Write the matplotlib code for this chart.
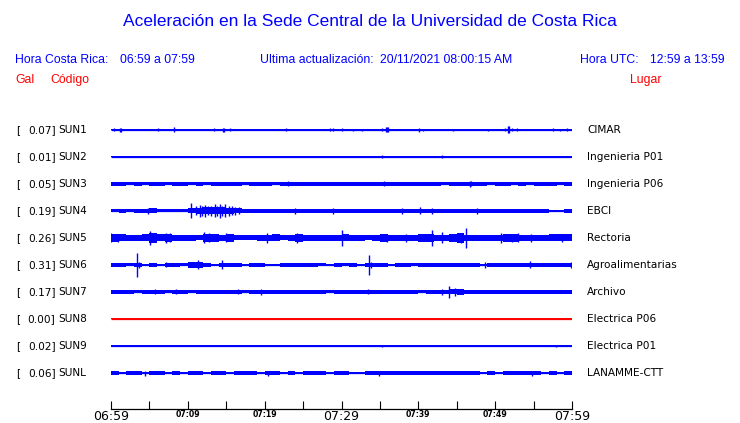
import numpy as np
import matplotlib
matplotlib.use("Agg")
import matplotlib.pyplot as plt

# ---------------- data ----------------
codes = ["SUN1", "SUN2", "SUN3", "SUN4", "SUN5", "SUN6", "SUN7", "SUN8", "SUN9", "SUNL"]
peaks = ["0.07", "0.01", "0.05", "0.19", "0.26", "0.31", "0.17", "0.00", "0.02", "0.06"]
places = ["CIMAR", "Ingenieria P01", "Ingenieria P06", "EBCI", "Rectoria",
          "Agroalimentarias", "Archivo", "Electrica P06", "Electrica P01", "LANAMME-CTT"]
trace_colors = ["blue"] * 7 + ["red"] + ["blue"] * 2

tick_minutes = list(range(0, 61, 5))
tick_labels = ["06:59", "", "07:09", "", "07:19", "", "07:29", "", "07:39", "", "07:49", "", "07:59"]
big_labels = ["06:59", "07:29", "07:59"]

# per-minute envelope half-amplitude (pixel-ish units) for each trace, 60 bins
env_sun1 = [0.5] * 60
env_sun2 = [0.5] * 60
env_sun3 = [2, 2, 1.5, 2, 1.5, 2, 2, 1.5, 2, 2, 1.5, 2, 1.5, 2, 2, 2, 2, 1.5, 2, 2,
            2, 1.5, 2, 2, 2, 2, 2, 2, 2, 2, 2, 2, 2, 2, 2, 2, 2, 2, 2, 2,
            2, 2, 2, 1.5, 2, 2, 2, 2, 2, 1.5, 2, 2, 1.5, 2, 1.5, 2, 2, 2, 1.5, 2]
env_sun4 = [1.5, 2, 1.5, 2, 2, 2.5, 1.5, 1.5, 1.5, 1.5, 2.5, 3, 3.5, 3.5, 3.5, 3, 2.5, 2, 2, 2,
            2, 2, 2, 2, 2, 2, 2, 2, 2, 2, 2, 2, 2, 2, 2, 2, 2, 2, 2, 2,
            2, 2, 2, 2, 2, 2, 2, 2, 2, 2, 2, 2, 2, 2, 2, 2, 2, 1, 1, 2]
env_sun5 = [4, 3.5, 3, 3, 3.5, 5, 3.5, 4, 3, 3, 3, 2.5, 4, 4, 3, 4, 2.5, 2.5, 2.5, 3,
            3, 3.5, 2.5, 3, 4, 3, 3, 3, 3, 3, 3.5, 3, 3, 2.5, 3, 4, 3, 3, 3, 3,
            4, 4, 3, 3, 4, 5, 3, 3, 3, 3, 3, 4, 4, 3, 3, 3, 3, 3.5, 3.5, 3.5]
env_sun6 = [2, 2, 1.5, 2, 0.5, 2, 0.5, 2, 2, 1.5, 3, 3, 2, 0.5, 2, 2, 2, 1, 2, 2,
            1, 1, 2, 2, 2, 2, 2, 1.5, 1, 2, 1.5, 2, 0.5, 2, 2, 2, 0.5, 2, 2, 1.5,
            2, 2, 2, 2, 2, 2, 2, 2, 1, 2, 2, 2, 2, 2, 2, 2, 2, 2, 2, 2]
env_sun7 = [2, 2, 2, 1.5, 2, 2, 2, 1.5, 2, 2, 1.5, 2, 2, 2, 2, 2, 2, 1.5, 2, 2,
            2, 2, 2, 2, 2, 2, 2, 2, 1.5, 2, 2, 2, 2, 2, 2, 2, 2, 2, 2, 2,
            1.5, 2, 2, 2, 2.5, 3, 2, 2, 2, 2, 2, 2, 2, 2, 2, 2, 2, 2, 2, 2]
env_sun8 = [0.5] * 60
env_sun9 = [0.5] * 60
env_sunl = [2, 1.5, 2, 2, 1.5, 2, 2, 1.5, 2, 1.5, 2, 2, 1.5, 2, 2, 1.5, 2, 2, 2, 1.5,
            2, 2, 1.5, 2, 1.5, 2, 2, 2, 1.5, 2, 2, 0.5, 0.5, 2, 2, 2, 2, 2, 2, 2,
            2, 2, 2, 2, 2, 2, 2, 2, 1.5, 2, 1.5, 2, 2, 2, 2, 2, 1.5, 2, 1.5, 2]
envelopes = [env_sun1, env_sun2, env_sun3, env_sun4, env_sun5,
             env_sun6, env_sun7, env_sun8, env_sun9, env_sunl]

# spikes: (minute, half-amplitude)
spk_sun1 = [(0.43, 1.5), (1.17, 2), (1.3, 2), (6.06, 1.5), (8.22, 2.5), (13.38, 1.5), (14.55, 2), (14.7, 2),
            (15.45, 1.5), (22.73, 1.5), (28.53, 1.5), (28.83, 1.5), (30.0, 1.5), (31.56, 1), (32.73, 1),
            (35.29, 1.5), (35.8, 2.5), (35.94, 2.5), (36.1, 2.5), (40.13, 2), (40.65, 1), (44.55, 1),
            (49.09, 1), (51.26, 1.5), (51.7, 3.5), (51.82, 3.5), (52.21, 1.5), (52.82, 1.5),
            (57.53, 1.5), (58.44, 1), (59.35, 1.5)]
spk_sun2 = [(35.29, 1.5), (43.08, 1.5)]
spk_sun3 = [(46.7, 3), (46.85, 2.5), (23.0, 2.5), (35.5, 2.5)]
spk_sun4 = [(4.81, 3), (10.39, 7.5), (11.0, 4.5), (11.56, 6), (11.9, 5), (12.21, 6), (12.6, 4.5),
            (12.99, 5), (13.51, 6.5), (13.8, 5), (14.16, 7), (14.5, 5), (14.81, 6.5), (15.32, 5),
            (15.7, 4.5), (16.1, 4), (16.6, 3.5), (23.9, 3), (28.83, 3), (37.92, 3), (40.26, 3.5),
            (41.78, 3), (47.66, 3)]
spk_sun5 = [(0.0, 4.5), (0.91, 4), (5.06, 7), (7.14, 5), (7.66, 4.5), (12.12, 5.5), (12.73, 4.5),
            (15.03, 4.5), (20.35, 5), (24.25, 5), (30.04, 8), (35.94, 4), (38.4, 4), (41.78, 8),
            (43.08, 5.5), (45.55, 5), (46.2, 10), (50.82, 5), (52.21, 4), (53.03, 4.5), (54.64, 4),
            (58.7, 4)]
spk_sun6 = [(3.42, 12), (3.6, 3), (7.14, 2.5), (11.26, 4.5), (14.45, 4.5), (33.55, 10), (33.8, 3),
            (48.7, 3), (54.55, 3.5), (59.9, 3)]
spk_sun7 = [(5.7, 2.5), (8.4, 2.5), (16.49, 2.5), (19.48, 3), (33.5, 2.5), (43.12, 3), (44.03, 6),
            (44.81, 4)]
spk_sun8 = []
spk_sun9 = [(35.23, 1), (57.96, 1)]
spk_sunl = [(4.4, 2.5), (20.4, 2.5), (34.94, 2.5), (54.81, 2.5)]
spikes = [spk_sun1, spk_sun2, spk_sun3, spk_sun4, spk_sun5,
          spk_sun6, spk_sun7, spk_sun8, spk_sun9, spk_sunl]

# ---------------- figure ----------------
W, H = 740, 423
fig = plt.figure(figsize=(W / 100, H / 100), dpi=100)

def fx(x):
    return x / W

def fy(y):
    return 1 - y / H

HEAD = "Liberation Sans"
BLUE = "#0000ff"
fig.text(fx(370), fy(22), "Aceleración en la Sede Central de la Universidad de Costa Rica",
         color=BLUE, fontsize=12.55, family=HEAD, ha="center", va="center")
hdr = [(15, "Hora Costa Rica:"), (120, "06:59 a 07:59"), (260, "Ultima actualización:"),
       (380, "20/11/2021 08:00:15 AM"), (580, "Hora UTC:"), (650.5, "12:59 a 13:59")]
for x, s in hdr:
    fig.text(fx(x), fy(60), s, color=BLUE, fontsize=8.8, family=HEAD, ha="left", va="center")
for x, s in [(15, "Gal"), (50, "Código"), (630, "Lugar")]:
    fig.text(fx(x), fy(80), s, color="red", fontsize=8.8, family=HEAD, ha="left", va="center")

# axes: x in minutes, y in row index (row spacing = 27 px)
row0, step = 130, 27
ax_bottom, ax_top = 409, 100
ax = fig.add_axes([fx(111), fy(ax_bottom), (572 - 111) / W, (ax_bottom - ax_top) / H])
ax.set_xlim(0, 60)
ax.set_ylim((ax_bottom - row0) / step, (ax_top - row0) / step)
for s in ["left", "right", "top"]:
    ax.spines[s].set_visible(False)
ax.spines["bottom"].set_linewidth(0.9)
ax.set_yticks([])
ax.set_xticks(tick_minutes)
ax.set_xticklabels(tick_labels)
ax.tick_params(axis="x", direction="in", length=6, width=0.8, pad=1)
for lab in ax.get_xticklabels():
    if lab.get_text() in big_labels:
        lab.set_fontsize(9)
    else:
        lab.set_fontsize(5.6)
        lab.set_fontweight("bold")

edges = np.arange(61)
for i in range(len(codes)):
    env = np.array(envelopes[i]) / step
    c = trace_colors[i]
    ax.fill_between(edges, i - np.append(env, env[-1]), i + np.append(env, env[-1]),
                    step="post", color=c, linewidth=0, antialiased=False)
    ax.hlines(i, 0, 60, color=c, linewidth=0.9)
    if spikes[i]:
        t = np.array([s[0] for s in spikes[i]])
        a = np.array([s[1] for s in spikes[i]]) / step
        ax.vlines(t, i - a, i + a, color=c, linewidth=1.0)
    y = row0 + step * i
    fig.text(fx(16), fy(y), "[", fontsize=7.6, ha="left", va="center")
    fig.text(fx(55.5), fy(y), peaks[i] + "]", fontsize=7.6, ha="right", va="center")
    fig.text(fx(58.5), fy(y), codes[i], fontsize=7.6, ha="left", va="center")
    fig.text(fx(587), fy(y), places[i], fontsize=7.6, ha="left", va="center")

fig.savefig("out.png", dpi=100)
